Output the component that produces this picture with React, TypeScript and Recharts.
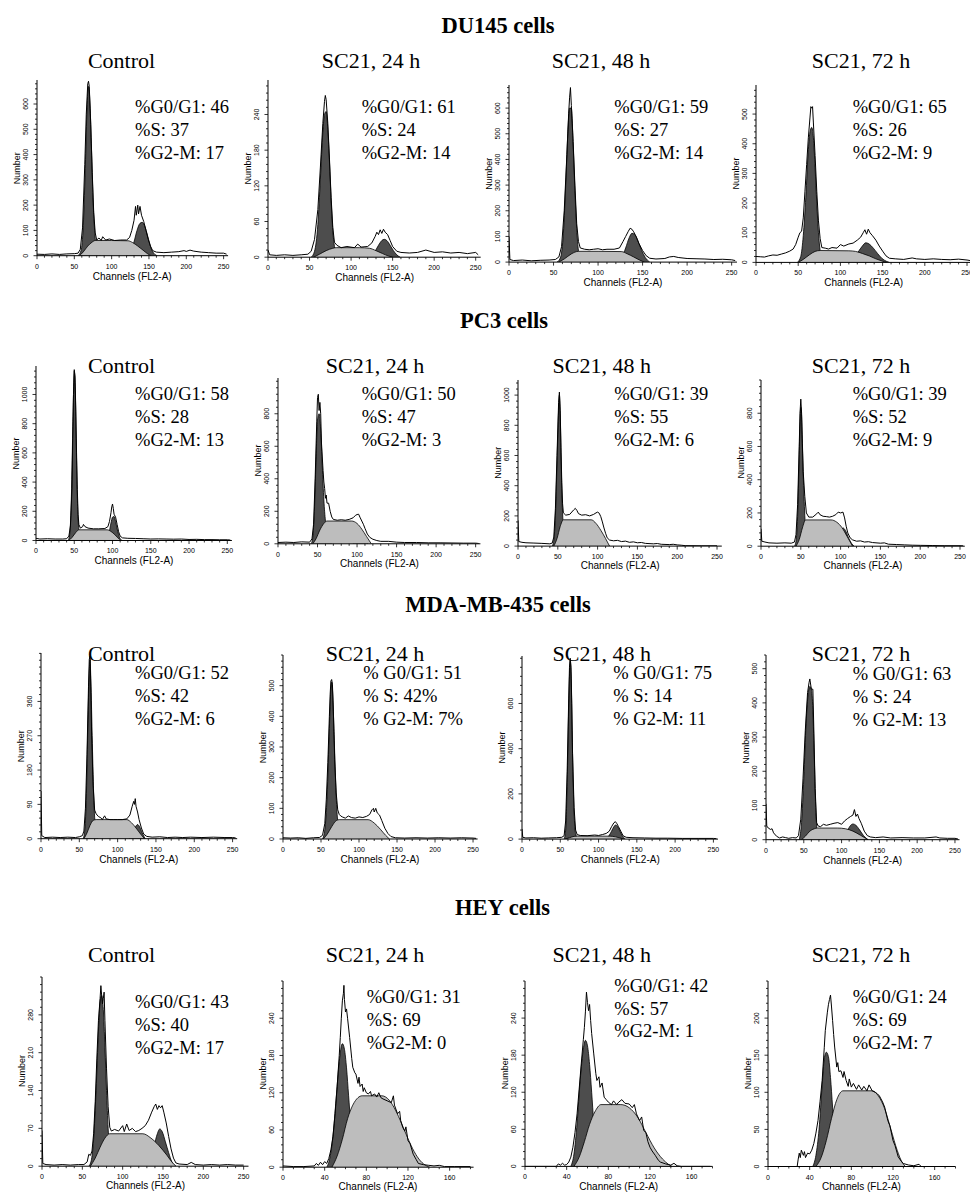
import React from 'react'
import { ComposedChart, Area, Line, XAxis, YAxis } from 'recharts'

type Pt = [number, number]

// ---- DU145 cells ----
const du145CtrlRaw: Pt[] = [[0,6],[10,5],[20,7],[30,5],[40,7],[50,8],[55,10],[58,25],[61,110],[64,360],[66,560],[68,680],[69,690],[70,670],[72,520],[74,330],[76,170],[78,90],[80,62],[83,70],[86,60],[88,75],[92,62],[97,66],[104,60],[112,62],[120,62],[124,72],[127,100],[130,140],[132,195],[133,160],[135,200],[136,165],[138,195],[140,160],[143,135],[146,100],[149,65],[152,38],[155,20],[160,14],[170,12],[180,14],[190,16],[197,20],[200,17],[205,22],[210,18],[220,14],[230,12],[240,10],[250,10],[254,6]]
const du145CtrlG1: Pt[] = [[55,0],[59,20],[62,120],[65,380],[67,580],[69,670],[71,600],[73,420],[75,230],[77,110],[79,40],[82,8],[85,0]]
const du145CtrlS: Pt[] = [[57,0],[62,15],[68,38],[74,54],[78,60],[100,60],[122,59],[128,52],[135,38],[142,22],[148,8],[153,0]]
const du145CtrlG2: Pt[] = [[120,0],[126,20],[130,55],[134,100],[138,128],[141,132],[144,120],[147,92],[150,58],[153,28],[157,8],[161,0]]

const du145H24Raw: Pt[] = [[0,12],[2,4],[10,3],[20,4],[30,3],[40,4],[48,5],[52,10],[56,30],[60,80],[63,150],[66,225],[68,262],[69,272],[70,265],[72,225],[74,165],[76,100],[78,50],[80,25],[83,20],[88,16],[95,18],[104,16],[108,22],[112,17],[120,18],[125,24],[129,35],[131,42],[133,38],[135,46],[137,40],[139,47],[141,42],[144,38],[147,28],[150,18],[155,10],[160,8],[170,7],[180,8],[190,12],[195,10],[200,8],[210,9],[220,7],[230,8],[240,6],[250,8],[253,4]]
const du145H24G1: Pt[] = [[52,0],[56,10],[60,55],[63,130],[66,210],[68,240],[70,245],[72,215],[74,160],[76,95],[78,45],[80,18],[83,3],[86,0]]
const du145H24S: Pt[] = [[55,0],[62,5],[70,11],[78,15],[82,16],[110,16],[122,15],[130,11],[138,6],[145,2],[150,0]]
const du145H24G2: Pt[] = [[122,0],[128,8],[133,20],[137,28],[140,30],[143,28],[147,20],[151,11],[155,4],[159,0]]

const du145H48Raw: Pt[] = [[0,100],[1,10],[5,6],[15,8],[25,5],[35,7],[45,8],[52,10],[56,20],[59,60],[62,200],[65,420],[67,580],[68,640],[69,680],[70,610],[72,470],[74,300],[76,150],[78,80],[80,55],[85,50],[90,48],[95,50],[100,52],[105,48],[110,50],[118,50],[124,55],[128,80],[131,100],[134,120],[136,132],[138,128],[140,118],[143,98],[146,72],[150,45],[154,25],[158,15],[165,12],[175,14],[180,20],[185,22],[190,18],[200,14],[210,13],[220,12],[230,10],[240,11],[250,9],[254,6]]
const du145H48G1: Pt[] = [[54,0],[58,20],[61,110],[64,330],[66,500],[68,600],[70,600],[72,460],[74,280],[76,130],[78,45],[81,10],[84,0]]
const du145H48S: Pt[] = [[56,0],[62,12],[70,32],[78,42],[100,42],[126,41],[133,32],[140,20],[146,9],[152,0]]
const du145H48G2: Pt[] = [[122,0],[127,20],[131,55],[135,95],[138,112],[141,108],[145,80],[149,45],[153,18],[158,0]]

const du145H72Raw: Pt[] = [[0,20],[5,19],[10,18],[15,22],[20,25],[25,24],[30,28],[35,32],[40,38],[44,45],[47,60],[50,85],[52,100],[54,105],[56,150],[58,240],[60,330],[62,420],[64,490],[65,525],[66,520],[67,525],[68,470],[70,360],[72,240],[74,140],[76,80],[78,50],[82,48],[86,45],[90,50],[96,48],[100,60],[104,55],[110,62],[115,65],[120,75],[124,85],[127,100],[129,110],[131,95],[133,112],[135,100],[138,90],[142,75],[146,55],[150,38],[154,22],[158,14],[165,12],[175,10],[185,15],[190,12],[200,10],[210,12],[220,10],[230,9],[240,11],[250,8],[254,6]]
const du145H72G1: Pt[] = [[49,0],[53,20],[56,90],[59,220],[62,380],[64,440],[66,455],[68,420],[70,320],[72,200],[74,100],[76,40],[79,8],[82,0]]
const du145H72S: Pt[] = [[50,0],[56,10],[63,25],[70,37],[76,40],[110,39],[118,37],[126,30],[134,22],[142,12],[150,4],[155,0]]
const du145H72G2: Pt[] = [[110,0],[116,12],[121,35],[126,55],[130,66],[134,62],[139,48],[144,30],[149,14],[155,3],[158,0]]

// ---- PC3 cells ----
const pc3CtrlRaw: Pt[] = [[0,15],[5,10],[15,12],[25,10],[35,10],[40,12],[43,30],[45,100],[47,350],[48,700],[49,1000],[50,1170],[51,1120],[52,900],[53,600],[54,350],[55,180],[56,110],[58,85],[61,95],[62,110],[64,95],[68,85],[75,80],[82,80],[90,82],[94,95],[96,130],[98,190],[99,230],[100,250],[101,220],[102,180],[104,160],[106,110],[108,60],[110,30],[113,18],[120,15],[130,14],[140,12],[150,10],[160,11],[170,10],[180,9],[190,10],[200,7],[210,8],[220,6],[230,6],[240,5],[250,5],[254,3]]
const pc3CtrlG1: Pt[] = [[42,0],[44,40],[46,250],[48,750],[49,1000],[50,1160],[51,1100],[52,850],[53,550],[54,300],[55,150],[57,40],[59,0]]
const pc3CtrlS: Pt[] = [[43,0],[47,20],[52,55],[56,73],[93,73],[98,62],[103,40],[107,18],[111,0]]
const pc3CtrlG2: Pt[] = [[92,0],[95,40],[98,120],[100,160],[102,164],[104,130],[106,80],[108,40],[110,12],[113,0]]

const pc3H24Raw: Pt[] = [[0,8],[10,10],[20,8],[30,12],[40,10],[43,30],[45,120],[47,400],[49,750],[50,900],[51,920],[52,820],[53,870],[54,800],[55,620],[57,450],[58,380],[59,340],[60,280],[61,300],[62,250],[64,250],[66,200],[68,165],[70,150],[75,145],[80,148],[85,145],[90,150],[95,160],[98,175],[100,180],[102,182],[104,160],[106,140],[108,120],[110,95],[113,60],[116,40],[120,28],[125,20],[130,15],[140,15],[150,10],[160,8],[175,8],[190,6],[205,6],[220,5],[235,4],[250,4],[254,2]]
const pc3H24G1: Pt[] = [[42,0],[44,40],[46,200],[48,500],[50,760],[52,800],[54,700],[56,480],[58,270],[60,140],[62,60],[65,15],[68,0]]
const pc3H24S: Pt[] = [[44,0],[48,30],[53,85],[58,125],[62,140],[93,140],[100,125],[106,90],[112,45],[118,0]]
const pc3H24G2: Pt[] = [[95,0],[99,25],[103,45],[107,35],[111,12],[114,0]]

const pc3H48Raw: Pt[] = [[0,170],[1,30],[5,25],[10,22],[20,20],[30,18],[40,15],[43,20],[45,60],[47,250],[49,600],[51,950],[52,1020],[53,900],[54,650],[55,420],[56,280],[57,220],[60,205],[65,210],[70,240],[72,250],[74,236],[76,215],[80,205],[85,208],[90,200],[95,210],[98,220],[100,225],[102,218],[104,195],[106,160],[108,120],[110,85],[112,55],[115,40],[120,35],[125,38],[130,30],[135,33],[140,25],[145,28],[150,22],[155,24],[160,18],[170,15],[175,17],[180,12],[190,10],[195,12],[200,8],[205,6],[210,3],[230,2],[250,2]]
const pc3H48G1: Pt[] = [[43,0],[45,40],[47,200],[49,550],[51,900],[52,1000],[53,880],[54,620],[55,380],[57,120],[59,30],[61,0]]
const pc3H48S: Pt[] = [[45,0],[49,50],[53,130],[57,174],[92,174],[98,150],[104,105],[110,50],[115,0]]
const pc3H48G2: Pt[] = [[94,0],[99,30],[103,55],[107,45],[111,18],[115,0]]

const pc3H72Raw: Pt[] = [[0,105],[1,30],[5,25],[10,20],[20,18],[30,20],[38,18],[42,25],[44,70],[46,250],[48,600],[49,800],[50,885],[51,800],[52,620],[53,450],[55,300],[57,200],[60,175],[65,175],[70,195],[72,205],[74,190],[78,180],[82,178],[86,175],[90,180],[94,190],[97,205],[100,200],[103,205],[105,170],[107,120],[109,80],[112,50],[115,38],[120,30],[125,32],[130,25],[135,27],[140,22],[150,18],[155,20],[160,12],[170,10],[180,8],[190,6],[200,5],[215,4],[230,3],[250,3],[254,2]]
const pc3H72G1: Pt[] = [[42,0],[44,30],[46,180],[48,550],[49,750],[50,835],[51,780],[52,600],[54,300],[56,100],[58,30],[61,0]]
const pc3H72S: Pt[] = [[44,0],[48,40],[52,110],[56,158],[88,158],[95,145],[102,110],[108,60],[115,0]]
const pc3H72G2: Pt[] = [[92,0],[97,50],[101,95],[103,110],[106,95],[110,50],[114,15],[117,0]]

// ---- MDA-MB-435 cells ----
const mdaCtrlRaw: Pt[] = [[0,125],[1,8],[5,3],[15,4],[25,3],[35,4],[45,3],[50,5],[54,8],[56,20],[58,80],[60,220],[62,400],[63,470],[64,480],[65,400],[66,280],[68,140],[70,75],[72,65],[75,58],[78,55],[80,50],[83,60],[85,52],[90,50],[95,50],[100,50],[106,50],[112,52],[116,62],[119,85],[121,98],[122,90],[123,105],[124,85],[126,70],[128,50],[131,28],[134,12],[138,6],[145,4],[155,5],[165,3],[175,4],[185,3],[195,4],[210,3],[225,4],[240,3],[250,3],[254,2]]
const mdaCtrlG1: Pt[] = [[55,0],[57,20],[59,100],[61,280],[63,440],[64,470],[65,420],[67,250],[69,100],[71,30],[74,0]]
const mdaCtrlS: Pt[] = [[56,0],[60,15],[64,35],[68,48],[72,50],[112,50],[118,42],[124,28],[130,12],[135,0]]
const mdaCtrlG2: Pt[] = [[115,0],[119,10],[123,30],[126,37],[129,30],[132,15],[136,0]]

const mdaH24Raw: Pt[] = [[0,4],[10,3],[20,4],[30,2],[40,4],[48,5],[52,12],[55,50],[57,130],[59,250],[61,400],[62,470],[63,515],[64,520],[65,505],[66,440],[67,350],[68,260],[70,150],[72,95],[74,80],[76,75],[78,72],[82,68],[86,75],[90,70],[95,68],[100,72],[105,70],[110,74],[114,80],[117,95],[119,100],[120,88],[122,100],[124,85],[127,78],[130,60],[134,35],[138,18],[142,8],[148,4],[160,3],[175,4],[190,3],[205,4],[220,3],[235,4],[250,3],[254,2]]
const mdaH24G1: Pt[] = [[52,0],[55,30],[58,140],[61,360],[63,490],[64,512],[65,490],[67,360],[69,200],[71,90],[73,35],[76,5],[78,0]]
const mdaH24S: Pt[] = [[53,0],[58,15],[64,40],[70,60],[74,63],[112,63],[120,52],[128,32],[135,12],[140,0]]
const mdaH24G2: Pt[] = [[113,0],[118,10],[123,25],[126,28],[130,22],[134,10],[139,0]]

const mdaH48Raw: Pt[] = [[0,45],[1,8],[5,5],[15,6],[25,4],[35,5],[45,6],[52,8],[55,15],[57,80],[59,300],[61,620],[62,760],[63,800],[64,760],[65,600],[66,380],[68,140],[70,40],[72,20],[76,16],[85,15],[95,18],[100,16],[105,20],[110,25],[114,35],[117,55],[120,72],[122,77],[124,68],[126,55],[129,35],[132,15],[136,8],[145,6],[160,5],[175,4],[190,4],[210,3],[230,3],[250,3],[254,2]]
const mdaH48G1: Pt[] = [[55,0],[57,40],[59,250],[61,580],[62,720],[63,790],[64,740],[65,580],[66,380],[68,120],[70,25],[73,0]]
const mdaH48S: Pt[] = [[56,0],[62,6],[68,12],[72,13],[115,13],[122,10],[128,5],[133,0]]
const mdaH48G2: Pt[] = [[108,0],[113,12],[117,35],[120,55],[122,62],[125,55],[128,35],[131,15],[135,0]]

const mdaH72Raw: Pt[] = [[0,105],[1,40],[3,34],[6,30],[8,32],[10,20],[14,10],[18,5],[22,8],[26,6],[30,4],[35,6],[40,5],[43,12],[46,60],[49,180],[52,320],[55,430],[57,460],[58,470],[60,440],[62,440],[63,350],[65,150],[67,50],[69,40],[72,38],[76,45],[80,42],[85,45],[90,48],[95,50],[100,45],[104,55],[108,62],[112,68],[115,72],[117,88],[119,68],[121,75],[123,62],[126,48],[130,25],[134,12],[138,8],[145,6],[155,8],[165,5],[180,6],[195,5],[210,5],[225,8],[230,5],[240,4],[250,4],[254,2]]
const mdaH72G1: Pt[] = [[44,0],[47,50],[50,180],[53,340],[56,430],[58,448],[60,440],[62,380],[64,230],[66,80],[68,20],[71,0]]
const mdaH72S: Pt[] = [[47,0],[52,10],[58,25],[64,32],[68,34],[95,34],[105,32],[115,25],[125,13],[135,0]]
const mdaH72G2: Pt[] = [[98,0],[103,10],[108,28],[112,42],[115,46],[119,42],[124,28],[129,12],[135,0]]

// ---- HEY cells ----
const heyCtrlRaw: Pt[] = [[0,66],[1,5],[5,3],[15,2],[25,3],[35,2],[45,3],[52,3],[56,8],[58,22],[60,20],[62,28],[64,60],[66,120],[68,200],[70,270],[72,310],[73,334],[74,315],[75,300],[76,310],[77,322],[78,270],[80,180],[82,110],[84,72],[86,65],[90,68],[95,65],[100,75],[102,64],[105,78],[108,66],[112,70],[116,64],[120,66],[124,70],[128,75],[132,85],[136,100],[139,110],[141,115],[143,105],[145,112],[147,108],[149,112],[151,100],[154,80],[157,55],[160,32],[163,15],[166,6],[170,4],[180,3],[185,7],[190,3],[200,2],[210,3],[220,2],[230,3],[240,2],[250,2]]
const heyCtrlG1: Pt[] = [[58,0],[61,10],[64,50],[67,140],[70,250],[72,305],[74,316],[76,290],[78,220],[80,140],[82,70],[84,25],[87,0]]
const heyCtrlS: Pt[] = [[60,0],[66,15],[72,35],[78,52],[84,60],[125,60],[135,52],[145,38],[155,20],[162,6],[166,0]]
const heyCtrlG2: Pt[] = [[130,0],[135,15],[139,38],[143,60],[146,69],[149,64],[153,45],[157,25],[161,8],[166,0]]

const heyH24Raw: Pt[] = [[0,2],[10,1],[20,1],[30,2],[32,6],[34,3],[36,8],[38,4],[40,9],[42,6],[44,14],[46,28],[48,50],[50,86],[52,130],[54,180],[55,209],[56,240],[57,268],[58,280],[58.5,293],[59,270],[60,250],[61,255],[62,240],[64,209],[66,175],[67,161],[69,152],[70,150],[72,135],[73,145],[74,130],[76,134],[77,122],[78,128],[80,120],[82,118],[84,122],[85,115],[88,118],[90,113],[92,120],[94,112],[96,110],[100,107],[104,104],[106,115],[107,100],[110,86],[112,90],[113,75],[115,64],[117,58],[118,65],[120,43],[122,38],[125,21],[128,12],[130,6],[135,4],[140,3],[145,2],[150,3],[155,1],[165,1],[180,1]]
const heyH24G1: Pt[] = [[42,0],[45,15],[48,50],[51,110],[54,170],[57,199],[59,190],[61,160],[63,115],[65,70],[67,30],[69,8],[71,0]]
const heyH24S: Pt[] = [[47,0],[52,18],[57,45],[62,78],[67,100],[72,112],[76,115],[95,115],[102,108],[108,92],[114,70],[120,46],[126,25],[132,10],[138,2],[141,0]]

const heyH48Raw: Pt[] = [[0,0],[30,0],[32,4],[34,2],[36,5],[38,2],[40,3],[42,7],[44,15],[46,31],[48,55],[50,85],[52,125],[54,166],[56,205],[57,225],[58,250],[59,282],[60,265],[61,252],[62,262],[63,236],[64,215],[66,182],[68,150],[69,139],[71,145],[72,128],[74,135],[76,112],[78,108],[80,104],[83,100],[85,106],[88,100],[90,104],[93,108],[96,102],[100,101],[103,95],[105,100],[107,85],[110,74],[112,80],[114,58],[116,55],[118,40],[120,31],[122,25],[125,18],[128,10],[130,7],[135,4],[140,2],[143,5],[146,1],[150,0],[178,0]]
const heyH48G1: Pt[] = [[44,0],[47,20],[50,70],[53,140],[56,190],[58,204],[60,195],[62,165],[64,120],[66,70],[68,30],[70,8],[72,0]]
const heyH48S: Pt[] = [[47,0],[52,15],[57,40],[62,68],[67,88],[73,100],[92,100],[100,95],[108,80],[116,55],[124,30],[132,12],[138,3],[141,0]]

const heyH72Raw: Pt[] = [[0,0],[28,0],[29,10],[30,18],[31,12],[32,22],[34,15],[35,20],[36,12],[38,18],[40,17],[42,22],[44,31],[46,45],[48,62],[50,88],[52,116],[54,160],[55,183],[57,208],[58,218],[59,225],[60,231],[61,215],[62,197],[63,178],[64,161],[66,134],[67,140],[68,128],[70,129],[72,120],[73,128],[75,116],[77,108],[78,118],[80,107],[82,112],[85,104],[87,110],[90,103],[92,108],[95,102],[97,110],[100,102],[103,100],[105,98],[107,95],[110,87],[112,80],[115,62],[117,55],[120,35],[122,28],[125,13],[128,7],[130,4],[135,2],[140,1],[145,3],[147,0],[178,0]]
const heyH72G1: Pt[] = [[43,0],[46,15],[49,50],[52,110],[54,145],[56,154],[58,148],[60,120],[62,80],[64,40],[66,12],[68,0]]
const heyH72S: Pt[] = [[46,0],[51,12],[56,35],[61,65],[66,90],[72,102],[100,102],[106,95],[112,78],[118,50],[124,22],[129,5],[132,0]]
const heyH72G2: Pt[] = [[105,0],[110,8],[115,15],[120,12],[125,5],[130,0]]

// ---- labels ----
const cellLines = ['DU145 cells', 'PC3 cells', 'MDA-MB-435 cells', 'HEY cells']
const treatments = ['Control', 'SC21, 24 h', 'SC21, 48 h', 'SC21, 72 h']

const du145CtrlPct = ['%G0/G1: 46', '%S: 37', '%G2-M: 17']
const du145H24Pct = ['%G0/G1: 61', '%S: 24', '%G2-M: 14']
const du145H48Pct = ['%G0/G1: 59', '%S: 27', '%G2-M: 14']
const du145H72Pct = ['%G0/G1: 65', '%S: 26', '%G2-M: 9']
const pc3CtrlPct = ['%G0/G1: 58', '%S: 28', '%G2-M: 13']
const pc3H24Pct = ['%G0/G1: 50', '%S: 47', '%G2-M: 3']
const pc3H48Pct = ['%G0/G1: 39', '%S: 55', '%G2-M: 6']
const pc3H72Pct = ['%G0/G1: 39', '%S: 52', '%G2-M: 9']
const mdaCtrlPct = ['%G0/G1: 52', '%S: 42', '%G2-M: 6']
const mdaH24Pct = ['% G0/G1: 51', '% S: 42%', '% G2-M: 7%']
const mdaH48Pct = ['% G0/G1: 75', '% S: 14', '% G2-M: 11']
const mdaH72Pct = ['% G0/G1: 63', '% S: 24', '% G2-M: 13']
const heyCtrlPct = ['%G0/G1: 43', '%S: 40', '%G2-M: 17']
const heyH24Pct = ['%G0/G1: 31', '%S: 69', '%G2-M: 0']
const heyH48Pct = ['%G0/G1: 42', '%S: 57', '%G2-M: 1']
const heyH72Pct = ['%G0/G1: 24', '%S: 69', '%G2-M: 7']

const xTicks250 = [0, 50, 100, 150, 200, 250]
const xTicks160 = [0, 40, 80, 120, 160]

const SERIF = '"Liberation Serif", "Times New Roman", serif'
const SANS = '"Liberation Sans", Arial, sans-serif'

interface Panel {
  raw: Pt[]; g1: Pt[]; s: Pt[]; g2?: Pt[]
  pct: string[]
  title: string
  xMax: number; xMajor: number[]
  yMax: number; yMajor: number[]; yMinor: number
  box: [number, number, number, number] // plot left, top, right, bottom
  titleAt: [number, number]
  textAt: [number, number]
}

const range = (step: number, max: number) => {
  const out: number[] = []
  for (let v = 0; v <= max + 1e-9; v += step) out.push(Math.round(v * 100) / 100)
  return out
}

const panels: Panel[] = [
  { raw: du145CtrlRaw, g1: du145CtrlG1, s: du145CtrlS, g2: du145CtrlG2, pct: du145CtrlPct, title: treatments[0],
    xMax: 256, xMajor: xTicks250, yMax: 695, yMajor: range(100, 600), yMinor: 20,
    box: [36.7, 80.3, 227.8, 256], titleAt: [121.5, 68.3], textAt: [135, 113.3] },
  { raw: du145H24Raw, g1: du145H24G1, s: du145H24S, g2: du145H24G2, pct: du145H24Pct, title: treatments[1],
    xMax: 256, xMajor: xTicks250, yMax: 298, yMajor: range(60, 240), yMinor: 12,
    box: [268.3, 79.8, 481, 257], titleAt: [371, 68.3], textAt: [361.7, 113.3] },
  { raw: du145H48Raw, g1: du145H48G1, s: du145H48S, g2: du145H48G2, pct: du145H48Pct, title: treatments[2],
    xMax: 256, xMajor: xTicks250, yMax: 690, yMajor: range(100, 600), yMinor: 20,
    box: [509, 85.2, 737, 262.3], titleAt: [601, 68.3], textAt: [614.3, 113.3] },
  { raw: du145H72Raw, g1: du145H72G1, s: du145H72S, g2: du145H72G2, pct: du145H72Pct, title: treatments[3],
    xMax: 256, xMajor: xTicks250, yMax: 598, yMajor: range(100, 500), yMinor: 20,
    box: [755.7, 84.9, 971.8, 262.3], titleAt: [861, 68.3], textAt: [852.7, 113.3] },

  { raw: pc3CtrlRaw, g1: pc3CtrlG1, s: pc3CtrlS, g2: pc3CtrlG2, pct: pc3CtrlPct, title: treatments[0],
    xMax: 256, xMajor: xTicks250, yMax: 1195, yMajor: range(200, 1000), yMinor: 40,
    box: [36, 366.2, 231.9, 540.7], titleAt: [121.5, 372.7], textAt: [135, 400] },
  { raw: pc3H24Raw, g1: pc3H24G1, s: pc3H24S, g2: pc3H24G2, pct: pc3H24Pct, title: treatments[1],
    xMax: 256, xMajor: xTicks250, yMax: 1020, yMajor: range(200, 800), yMinor: 40,
    box: [278.3, 377.5, 480.7, 543.3], titleAt: [375, 372.7], textAt: [361.7, 400] },
  { raw: pc3H48Raw, g1: pc3H48G1, s: pc3H48S, g2: pc3H48G2, pct: pc3H48Pct, title: treatments[2],
    xMax: 256, xMajor: xTicks250, yMax: 1100, yMajor: range(200, 1000), yMinor: 40,
    box: [518.3, 379.6, 722.1, 545.7], titleAt: [601.7, 372.7], textAt: [614.3, 400] },
  { raw: pc3H72Raw, g1: pc3H72G1, s: pc3H72S, g2: pc3H72G2, pct: pc3H72Pct, title: treatments[3],
    xMax: 256, xMajor: xTicks250, yMax: 1000, yMajor: range(200, 800), yMinor: 40,
    box: [761, 379.5, 964.8, 545.7], titleAt: [861, 372.7], textAt: [852.7, 400] },

  { raw: mdaCtrlRaw, g1: mdaCtrlG1, s: mdaCtrlS, g2: mdaCtrlG2, pct: mdaCtrlPct, title: treatments[0],
    xMax: 256, xMajor: xTicks250, yMax: 487, yMajor: range(90, 360), yMinor: 18,
    box: [40.7, 653.3, 236.9, 839], titleAt: [121.5, 660.7], textAt: [135, 679] },
  { raw: mdaH24Raw, g1: mdaH24G1, s: mdaH24S, g2: mdaH24G2, pct: mdaH24Pct, title: treatments[1],
    xMax: 256, xMajor: xTicks250, yMax: 600, yMajor: range(100, 500), yMinor: 20,
    box: [282.7, 655.3, 477.3, 839.3], titleAt: [375, 660.7], textAt: [363.3, 679] },
  { raw: mdaH48Raw, g1: mdaH48G1, s: mdaH48S, g2: mdaH48G2, pct: mdaH48Pct, title: treatments[2],
    xMax: 256, xMajor: xTicks250, yMax: 810, yMajor: range(200, 600), yMinor: 40,
    box: [522.3, 655.9, 718.3, 839], titleAt: [601.7, 660.7], textAt: [613.3, 679] },
  { raw: mdaH72Raw, g1: mdaH72G1, s: mdaH72S, g2: mdaH72G2, pct: mdaH72Pct, title: treatments[3],
    xMax: 256, xMajor: xTicks250, yMax: 540, yMajor: range(100, 500), yMinor: 20,
    box: [766, 655.3, 959.5, 840], titleAt: [861, 660.7], textAt: [852.7, 680] },

  { raw: heyCtrlRaw, g1: heyCtrlG1, s: heyCtrlS, g2: heyCtrlG2, pct: heyCtrlPct, title: treatments[0],
    xMax: 256, xMajor: xTicks250, yMax: 350, yMajor: range(70, 280), yMinor: 14,
    box: [42.3, 976.5, 248.8, 1165.7], titleAt: [121.5, 961.7], textAt: [135, 1008.3] },
  { raw: heyH24Raw, g1: heyH24G1, s: heyH24S, pct: heyH24Pct, title: treatments[1],
    xMax: 183, xMajor: xTicks160, yMax: 300, yMajor: range(60, 240), yMinor: 12,
    box: [282.7, 980.5, 473.3, 1166.7], titleAt: [375, 961.7], textAt: [366.7, 1003.3] },
  { raw: heyH48Raw, g1: heyH48G1, s: heyH48S, pct: heyH48Pct, title: treatments[2],
    xMax: 180, xMajor: xTicks160, yMax: 300, yMajor: range(60, 240), yMinor: 12,
    box: [525, 980.6, 712.5, 1166], titleAt: [601.7, 961.7], textAt: [614.3, 991.7] },
  { raw: heyH72Raw, g1: heyH72G1, s: heyH72S, g2: heyH72G2, pct: heyH72Pct, title: treatments[3],
    xMax: 180, xMajor: xTicks160, yMax: 250, yMajor: range(50, 200), yMinor: 10,
    box: [767.7, 980.5, 955.2, 1166], titleAt: [861, 961.7], textAt: [852.7, 1003.3] },
]

const rowHeads: [number, number][] = [[498, 33], [504, 328], [498, 611.7], [502.5, 915]]

function mergeRows(series: Record<string, Pt[] | undefined>) {
  const map = new Map<number, any>()
  Object.entries(series).forEach(([key, pts]) => {
    if (!pts) return
    pts.forEach(([x, y]) => {
      const row = map.get(x) ?? { ch: x }
      row[key] = y
      map.set(x, row)
    })
  })
  return [...map.values()].sort((a, b) => a.ch - b.ch)
}

function XTick(props: any) {
  const { x, y, payload, majors } = props
  const major = majors.includes(payload.value)
  return (
    <g>
      <line x1={x} x2={x} y1={y} y2={y + (major ? 3.5 : 2)} stroke="#000" strokeWidth={0.8} />
      {major && (
        <text x={x} y={y + 13} textAnchor="middle" fontSize={7} fontFamily={SANS} fill="#000">{payload.value}</text>
      )}
    </g>
  )
}

function YTick(props: any) {
  const { x, y, payload, majors } = props
  const major = majors.includes(payload.value)
  return (
    <g>
      <line x1={x} x2={x - (major ? 3.5 : 2)} y1={y} y2={y} stroke="#000" strokeWidth={0.8} />
      {major && (
        <text transform={`translate(${x - 9},${y}) rotate(-90)`} textAnchor="middle" fontSize={7} fontFamily={SANS} fill="#000">{payload.value}</text>
      )}
    </g>
  )
}

const PAD_L = 40, PAD_T = 6, PAD_R = 4, PAD_B = 30

function Histogram({ p }: { p: Panel }) {
  const [L, T, R, B] = p.box
  const rows = mergeRows({ raw: p.raw, g1: p.g1, s: p.s, g2: p.g2 })
  const w = R - L + PAD_L + PAD_R
  const h = B - T + PAD_T + PAD_B
  return (
    <div style={{ position: 'absolute', left: L - PAD_L, top: T - PAD_T }}>
      <ComposedChart width={w} height={h} data={rows} margin={{ top: PAD_T, right: PAD_R, bottom: 0, left: 0 }}>
        <XAxis type="number" dataKey="ch" domain={[0, p.xMax]} allowDataOverflow ticks={range(10, p.xMax)} interval={0}
          height={PAD_B} tickSize={0} tickMargin={0} tickLine={false} axisLine={{ stroke: '#000', strokeWidth: 1 }}
          tick={<XTick majors={p.xMajor} />} />
        <YAxis type="number" domain={[0, p.yMax]} allowDataOverflow ticks={range(p.yMinor, p.yMax)} interval={0}
          width={PAD_L} tickSize={0} tickMargin={0} tickLine={false} axisLine={{ stroke: '#000', strokeWidth: 1 }}
          tick={<YTick majors={p.yMajor} />} />
        <Area type="monotone" dataKey="g1" stroke="#000" strokeWidth={0.8} fill="#4d4d4d" fillOpacity={1}
          connectNulls dot={false} activeDot={false} isAnimationActive={false} />
        {p.g2 && (
          <Area type="monotone" dataKey="g2" stroke="#000" strokeWidth={0.8} fill="#4d4d4d" fillOpacity={1}
            connectNulls dot={false} activeDot={false} isAnimationActive={false} />
        )}
        <Area type="monotone" dataKey="s" stroke="#000" strokeWidth={0.8} fill="#bdbdbd" fillOpacity={1}
          connectNulls dot={false} activeDot={false} isAnimationActive={false} />
        <Line type="linear" dataKey="raw" stroke="#000" strokeWidth={1} dot={false} activeDot={false}
          connectNulls isAnimationActive={false} />
      </ComposedChart>
    </div>
  )
}

export default function App() {
  return (
    <div style={{ position: 'absolute', left: 0, top: 0, width: 970, height: 1193, overflow: 'hidden', background: '#fff' }}>
      {panels.map((p, i) => <Histogram key={i} p={p} />)}
      <svg width={970} height={1193} style={{ position: 'absolute', left: 0, top: 0, pointerEvents: 'none' }}>
        {cellLines.map((name, i) => (
          <text key={name} x={rowHeads[i][0]} y={rowHeads[i][1]} textAnchor="middle" fontFamily={SERIF}
            fontWeight="bold" fontSize={22.5} fill="#000">{name}</text>
        ))}
        {panels.map((p, i) => {
          const [L, T, R, B] = p.box
          return (
            <g key={i}>
              <text x={p.titleAt[0]} y={p.titleAt[1]} textAnchor="middle" fontFamily={SERIF} fontSize={22} fill="#000">{p.title}</text>
              {p.pct.map((line, j) => (
                <text key={j} x={p.textAt[0]} y={p.textAt[1] + j * 22.8} fontFamily={SERIF} fontSize={18.5} fill="#000">{line}</text>
              ))}
              <text transform={`translate(${L - 17},${(T + B) / 2}) rotate(-90)`} textAnchor="middle" fontFamily={SANS} fontSize={9} fill="#000">Number</text>
              <text x={(L + R) / 2} y={B + 23.5} textAnchor="middle" fontFamily={SANS} fontSize={10} fill="#000">Channels (FL2-A)</text>
            </g>
          )
        })}
      </svg>
    </div>
  )
}
